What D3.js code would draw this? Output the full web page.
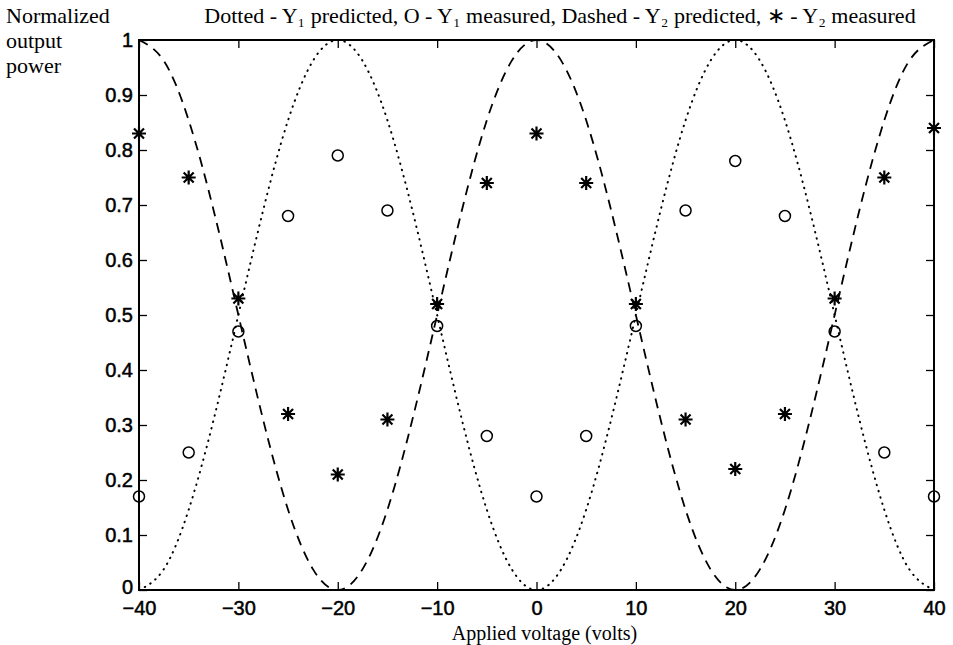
<!DOCTYPE html>
<html lang="en">
<head>
  <meta charset="UTF-8">
  <title>Normalized output power vs applied voltage</title>
  <style>
    html, body { margin: 0; background: #fff; }
    .tick text { font-family: "Liberation Sans", Arial, sans-serif; font-size: 20px; fill: #000; stroke: #000; stroke-width: 0.5; }
    .serif { font-family: "Liberation Serif", "Times New Roman", serif; font-size: 22px; fill: #000; }
    .domain { display: none; }
    .tick line { stroke: #000; stroke-width: 1.3; }
  </style>
</head>
<body>
<svg id="chart" width="953" height="645" viewBox="0 0 953 645"></svg>
<script src="https://d3js.org/d3.v7.min.js"></script>
<script>

// predicted curves, read every 2.5 volts
const voltsPred = [-40, -37.5, -35, -32.5, -30, -27.5, -25, -22.5, -20, -17.5, -15, -12.5, -10, -7.5, -5, -2.5,
    0, 2.5, 5, 7.5, 10, 12.5, 15, 17.5, 20, 22.5, 25, 27.5, 30, 32.5, 35, 37.5, 40];
const y1Pred = [0, 0.038, 0.146, 0.309, 0.5, 0.691, 0.854, 0.962, 1, 0.962, 0.854, 0.691, 0.5, 0.309, 0.146, 0.038,
    0, 0.038, 0.146, 0.309, 0.5, 0.691, 0.854, 0.962, 1, 0.962, 0.854, 0.691, 0.5, 0.309, 0.146, 0.038, 0];
const y2Pred = [1, 0.962, 0.854, 0.691, 0.5, 0.309, 0.146, 0.038, 0, 0.038, 0.146, 0.309, 0.5, 0.691, 0.854, 0.962,
    1, 0.962, 0.854, 0.691, 0.5, 0.309, 0.146, 0.038, 0, 0.038, 0.146, 0.309, 0.5, 0.691, 0.854, 0.962, 1];

// measured points, every 5 volts
const voltsMeas = [-40, -35, -30, -25, -20, -15, -10, -5, 0, 5, 10, 15, 20, 25, 30, 35, 40];
const y1Meas = [0.17, 0.25, 0.47, 0.68, 0.79, 0.69, 0.48, 0.28, 0.17, 0.28, 0.48, 0.69, 0.78, 0.68, 0.47, 0.25, 0.17];
const y2Meas = [0.83, 0.75, 0.53, 0.32, 0.21, 0.31, 0.52, 0.74, 0.83, 0.74, 0.52, 0.31, 0.22, 0.32, 0.53, 0.75, 0.84];

const xTicks = [-40, -30, -20, -10, 0, 10, 20, 30, 40];
const yTicks = [0, 0.1, 0.2, 0.3, 0.4, 0.5, 0.6, 0.7, 0.8, 0.9, 1];

const titleText = "Dotted - Y\u2081 predicted, O - Y\u2081 measured, Dashed - Y\u2082 predicted, \u2217 - Y\u2082 measured";
const yLabelLines = ["Normalized", "output", "power"];
const xLabelText = "Applied voltage (volts)";

const svg = d3.select("#chart"),
    margin = {top: 40, right: 19, bottom: 55, left: 139},
    width = +svg.attr("width") - margin.left - margin.right,
    height = +svg.attr("height") - margin.top - margin.bottom;

const x = d3.scaleLinear().domain([-40, 40]).range([0, width]);
const y = d3.scaleLinear().domain([0, 1]).range([height, 0]);

const g = svg.append("g")
    .attr("transform", "translate(" + margin.left + "," + margin.top + ")");

// axes, ticks pointing inward on all four sides
const tickLen = 8;
g.append("g")
    .attr("transform", "translate(0," + height + ")")
    .call(d3.axisBottom(x).tickValues(xTicks).tickSize(-tickLen).tickPadding(11).tickFormat(d3.format("d")));
g.append("g")
    .call(d3.axisTop(x).tickValues(xTicks).tickSize(-tickLen).tickFormat(""));
g.append("g")
    .call(d3.axisLeft(y).tickValues(yTicks).tickSize(-tickLen).tickPadding(6)
        .tickFormat(function (d) { return d === 0 || d === 1 ? d3.format("d")(d) : d3.format(".1f")(d); }));
g.append("g")
    .attr("transform", "translate(" + width + ",0)")
    .call(d3.axisRight(y).tickValues(yTicks).tickSize(-tickLen).tickFormat(""));

// lift the "0" a little so it clears the "-40" below it
g.selectAll(".tick text").filter(function (d) { return d === 0 && this.getAttribute("x") !== null; })
    .attr("dy", "0.15em");

g.append("rect")
    .attr("width", width)
    .attr("height", height)
    .attr("fill", "none")
    .attr("stroke", "#000")
    .attr("stroke-width", 2);

const line = d3.line()
    .x(function (d) { return x(d[0]); })
    .y(function (d) { return y(d[1]); })
    .curve(d3.curveNatural);

g.append("path")
    .datum(d3.zip(voltsPred, y1Pred))
    .attr("fill", "none")
    .attr("stroke", "#000")
    .attr("stroke-width", 2)
    .attr("stroke-linecap", "round")
    .attr("stroke-dasharray", "0.5,6")
    .attr("d", line);

g.append("path")
    .datum(d3.zip(voltsPred, y2Pred))
    .attr("fill", "none")
    .attr("stroke", "#000")
    .attr("stroke-width", 1.8)
    .attr("stroke-dasharray", "10,7")
    .attr("d", line);

// Y1 measured: open circles
g.selectAll(".circ")
    .data(d3.zip(voltsMeas, y1Meas))
    .enter().append("circle")
    .attr("class", "circ")
    .attr("cx", function (d) { return x(d[0]); })
    .attr("cy", function (d) { return y(d[1]); })
    .attr("r", 5.5)
    .attr("fill", "none")
    .attr("stroke", "#000")
    .attr("stroke-width", 1.5);

// Y2 measured: asterisks
const star = "M-7,0H7M0,-7V7M-5,-5L5,5M-5,5L5,-5";
g.selectAll(".star")
    .data(d3.zip(voltsMeas, y2Meas))
    .enter().append("path")
    .attr("class", "star")
    .attr("transform", function (d) { return "translate(" + x(d[0]) + "," + y(d[1]) + ")"; })
    .attr("d", star)
    .attr("stroke", "#000")
    .attr("stroke-width", 2.2)
    .attr("fill", "none");

// texts
svg.append("text")
    .attr("class", "serif")
    .attr("x", 560)
    .attr("y", 23)
    .attr("text-anchor", "middle")
    .text(titleText);

svg.selectAll(".ylab")
    .data(yLabelLines)
    .enter().append("text")
    .attr("class", "serif ylab")
    .attr("x", 6)
    .attr("y", function (d, i) { return 23 + i * 25; })
    .text(function (d) { return d; });

svg.append("text")
    .attr("class", "serif")
    .attr("x", margin.left + x(0) + 8)
    .attr("y", 640)
    .style("font-size", "20px")
    .attr("text-anchor", "middle")
    .text(xLabelText);

</script>
</body>
</html>
